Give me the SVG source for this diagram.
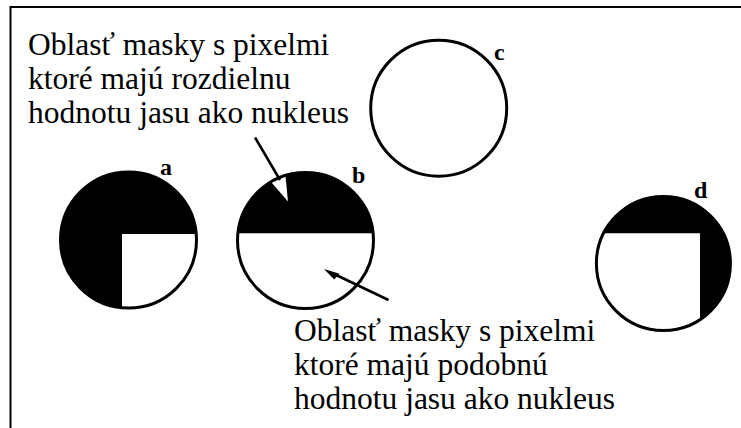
<svg xmlns="http://www.w3.org/2000/svg" width="741" height="428" viewBox="0 0 741 428">
<style>
.lbl{font-size:31.5px;fill:#000}
.tag{font-size:24px;font-weight:bold;fill:#000}
.ol{fill:none;stroke:#000;stroke-width:3}
.blk{fill:#000}
.wht{fill:#fff}
.conn{stroke:#000;stroke-width:2.6;fill:none}
</style>
<rect x="0" y="0" width="741" height="428" fill="#fff"/>
<rect x="10.5" y="7" width="760" height="450" fill="none" stroke="#000" stroke-width="2"/>

<g id="text-top" font-family="Liberation Serif, Tinos, Times New Roman, DejaVu Serif, serif">
<text class="lbl" x="28" y="54.5">Oblasť masky s pixelmi</text>
<text class="lbl" x="28" y="89">ktoré majú rozdielnu</text>
<text class="lbl" x="28" y="123">hodnotu jasu ako nukleus</text>
</g>

<g id="text-bottom" font-family="Liberation Serif, Tinos, Times New Roman, DejaVu Serif, serif">
<text class="lbl" x="294" y="340.5">Oblasť masky s pixelmi</text>
<text class="lbl" x="294" y="374.5">ktoré majú podobnú</text>
<text class="lbl" x="294" y="408.5">hodnotu jasu ako nukleus</text>
</g>

<g id="node-a">
<circle class="blk" cx="128.5" cy="240" r="68"/>
<path class="wht" d="M122,234 L196.2,234 A68,68 0 0 1 122,307.7 Z"/>
<circle class="ol" cx="128.5" cy="240" r="68"/>
<text class="tag" font-family="Liberation Serif, serif" x="160" y="175">a</text>
</g>

<g id="node-b">
<circle class="wht" cx="305.5" cy="240.5" r="68"/>
<path class="blk" d="M237.9,233.3 A68,68 0 0 1 373.1,233.3 Z"/>
<polygon class="wht" points="271.5,182.5 288,201.5 285.5,176"/>
<circle class="ol" cx="305.5" cy="240.5" r="68"/>
<text class="tag" font-family="Liberation Serif, serif" x="352" y="183">b</text>
</g>

<g id="node-c">
<circle class="ol" cx="438.7" cy="108.2" r="68"/>
<text class="tag" font-family="Liberation Serif, serif" x="494" y="60">c</text>
</g>

<g id="node-d">
<circle class="blk" cx="663.4" cy="263.5" r="67"/>
<path class="wht" d="M700,233.3 L603.6,233.3 A67,67 0 0 0 700,319.7 Z"/>
<circle class="ol" cx="663.4" cy="263.5" r="67"/>
<text class="tag" font-family="Liberation Serif, serif" x="694" y="198">d</text>
</g>

<g id="connectors">
<line class="conn" x1="255" y1="137.5" x2="280" y2="180"/>
<line class="conn" x1="388.5" y1="300" x2="333" y2="273.5"/>
<polygon class="blk" points="324,269 339.5,273.8 334.2,279.6"/>
</g>
</svg>
